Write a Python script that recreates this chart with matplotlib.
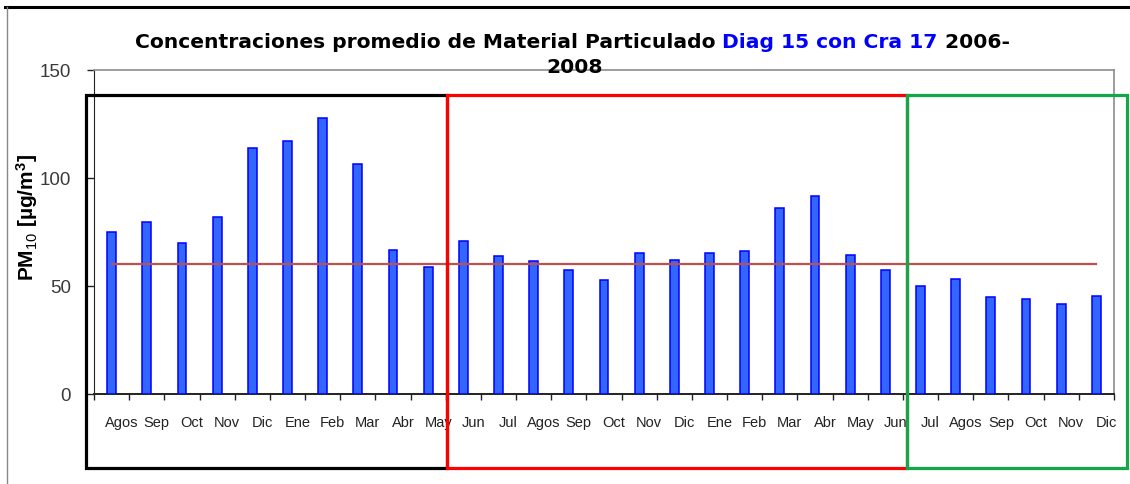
import numpy as np
import matplotlib.pyplot as plt
from matplotlib.lines import Line2D
from matplotlib.patches import Rectangle
from matplotlib.transforms import ScaledTranslation, blended_transform_factory

plt.rcParams.update({
    'font.family': ['Liberation Sans', 'DejaVu Sans'],
    'mathtext.fontset': 'custom',
    'mathtext.rm': 'Liberation Sans',
    'mathtext.bf': 'Liberation Sans:bold',
    'mathtext.default': 'regular',
})

# monthly PM10 means, Aug 2006 - Dec 2008
months = ['Agos', 'Sep', 'Oct', 'Nov', 'Dic', 'Ene', 'Feb', 'Mar', 'Abr', 'May',
          'Jun', 'Jul', 'Agos', 'Sep', 'Oct', 'Nov', 'Dic', 'Ene', 'Feb', 'Mar',
          'Abr', 'May', 'Jun', 'Jul', 'Agos', 'Sep', 'Oct', 'Nov', 'Dic']
pm10 = [75.0, 79.6, 70.0, 81.8, 113.6, 117.0, 127.4, 106.3, 66.6, 58.6,
        70.6, 63.8, 61.5, 57.3, 52.9, 65.4, 61.9, 65.4, 66.0, 86.2,
        91.5, 64.3, 57.3, 49.9, 53.3, 45.0, 44.0, 41.7, 45.5]
norma = [60] * len(months)
yticks = [0, 50, 100, 150]
# period groups drawn as boxes: (first index, last index, colour)
periods = [(0, 9, 'black'), (10, 22, '#ff0000'), (23, 28, '#12a84a')]

BAR_FILL = '#3366ff'
BAR_EDGE = '#0000ff'

W, H = 1130, 485
fig = plt.figure(figsize=(W / 100, H / 100), dpi=100)
ax = fig.add_axes([94 / W, 1 - 395 / H, 1020 / W, 324.5 / H])

x = np.arange(len(months))
ax.bar(x, pm10, width=0.25, color=BAR_FILL, edgecolor=BAR_EDGE, linewidth=1.1, zorder=3)
ax.plot(x, norma, color='#c0504d', linewidth=1.6, zorder=4)

ax.set_xlim(-0.5, len(months) - 0.5)
ax.set_ylim(0, 150)
ax.set_yticks(yticks)
ax.tick_params(axis='y', direction='out', length=5, width=1, color='#222222',
               pad=11.5, labelsize=13.5, labelcolor='#3a3a3a')

# tick marks between categories, labels at the bars
ax.set_xticks(np.arange(-0.5, len(months), 1))
ax.set_xticklabels([])
ax.tick_params(axis='x', which='major', direction='out', length=4, width=1, color='#222222')
ax.set_xticks(x, minor=True)
ax.set_xticklabels(months, minor=True)
ax.tick_params(axis='x', which='minor', length=0, pad=15, labelsize=10.5,
               labelcolor='#222222')
shift = ScaledTranslation(10 / 100, 0, fig.dpi_scale_trans)
for lbl in ax.get_xticklabels(minor=True):
    lbl.set_fontfamily(['Liberation Sans Narrow', 'Liberation Sans'])
    lbl.set_transform(lbl.get_transform() + shift)

for side in ['top', 'right']:
    ax.spines[side].set_color('#8c8c8c')
    ax.spines[side].set_linewidth(1.2)
ax.spines['left'].set_color('#222222')
ax.spines['bottom'].set_color('#222222')
ax.spines['bottom'].set_linewidth(1.4)

# period boxes
trans = blended_transform_factory(ax.transData, ax.transAxes)
box_edges = [-0.72, 9.54, 22.62, 28.87]
for i, (a, b, col) in enumerate(periods):
    r = Rectangle((box_edges[i], -0.228), box_edges[i + 1] - box_edges[i], 0.228 + 0.92,
                  transform=trans, fill=False, edgecolor=col, linewidth=2.3,
                  clip_on=False, zorder=6 + i)
    ax.add_patch(r)

# y label
fig.text(27 / W, 1 - 218 / H, r'PM$_{\mathrm{10}}$ [µg/m$^{\mathbf{3}}$]', rotation=90,
         ha='center', va='center', fontsize=15, fontweight='bold')

# title in three colours
tkw = dict(fontsize=14.6, fontweight='bold', family='DejaVu Sans')
t1 = fig.text(135 / W, 1 - 48 / H, 'Concentraciones promedio de Material Particulado ',
              ha='left', va='baseline', color='black', **tkw)
t2 = ax.annotate('Diag 15 con Cra 17', xy=(1, 0), xycoords=t1, ha='left', va='bottom',
                 color='#0000ff', annotation_clip=False, **tkw)
t3 = ax.annotate(' 2006-', xy=(1, 0), xycoords=t2, ha='left', va='bottom',
                 color='black', annotation_clip=False, **tkw)
fig.text(575 / W, 1 - 73 / H, '2008', ha='center', va='baseline', color='black', **tkw)

# chart frame
fig.add_artist(Line2D([5 / W, 1], [1 - 7.5 / H, 1 - 7.5 / H], color='black', linewidth=2.2))
fig.add_artist(Line2D([6.5 / W, 6.5 / W], [0, 1 - 8 / H], color='#888888', linewidth=1.0))

fig.savefig('out.png', dpi=100)
